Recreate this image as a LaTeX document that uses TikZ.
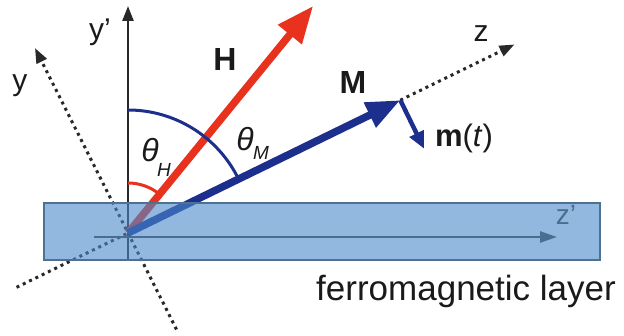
\documentclass[tikz,border=0pt]{standalone}
\usepackage{fontspec}
\setmainfont{Liberation Sans}
\usetikzlibrary{arrows.meta,calc}
\definecolor{hred}{HTML}{E8321E}
\definecolor{mblue}{HTML}{1C2F8C}
\definecolor{layerfill}{RGB}{73,137,203}
\definecolor{layeredge}{HTML}{4D7190}
\definecolor{zaxis}{HTML}{4A6E92}
\definecolor{axisgray}{HTML}{282828}
\definecolor{txt}{HTML}{1A1A1A}
\begin{document}
\begin{tikzpicture}[x=1pt,y=1pt,
  axlbl/.style={inner sep=0pt, text=txt, font=\fontsize{30}{30}\selectfont},
  boldlbl/.style={inner sep=0pt, text=txt, font=\fontsize{32}{32}\selectfont\bfseries},
  thetalbl/.style={inner sep=0pt, text=txt, font=\fontsize{32}{32}\selectfont\itshape},
  sublbl/.style={inner sep=0pt, text=txt, font=\fontsize{19}{19}\selectfont\itshape},
  dotline/.style={draw=axisgray, line width=3pt, dash pattern=on 3pt off 4pt},
  smalltip/.style={-{Triangle[length=15pt,width=11pt]}},
  vecH/.style={draw=hred, line width=7.5pt, -{Triangle[length=37pt,width=29pt]}},
  vecM/.style={draw=mblue, line width=7.5pt, -{Triangle[length=34pt,width=26pt]}},
  vecm/.style={draw=mblue, line width=4.5pt, -{Triangle[length=17pt,width=15pt]}},
  anglearc/.style={line width=3pt}]
\useasboundingbox (0,0) rectangle (624,336);
% key points
\coordinate (O) at (128,103);
\coordinate (ytop) at ($(O)+(116.7:207)$);
\coordinate (ybot) at ($(O)+(-63.3:108)$);
\coordinate (Mtip) at ($(O)+(26:303)$);
\coordinate (ztop) at ($(O)+(26:430)$);
\coordinate (zbot) at ($(O)+(206:124)$);
\coordinate (mtip) at ($(Mtip)+(-64:54)$);
\coordinate (Htip) at ($(O)+(50.8:293)$);
\coordinate (ypbot) at (128,75);
\coordinate (yptop) at (128,330);
\coordinate (zpstart) at (94,99);
\coordinate (zpend) at (557,99);
% axes
\draw[draw=axisgray, line width=2.5pt, smalltip] (ypbot) -- (yptop);
\draw[dotline, smalltip] (ybot) -- (ytop);
\draw[dotline] (zbot) -- (O);
\draw[dotline, smalltip] (Mtip) -- (ztop);
% vectors
\draw[vecH] (O) -- (Htip);
\draw[vecM] (O) -- (Mtip);
\draw[vecm] (Mtip) -- (mtip);
% angle arcs
\draw[anglearc, hred] ($(O)+(90:50)$) arc[start angle=90, end angle=50.8, radius=50];
\draw[anglearc, mblue] ($(O)+(90:123)$) arc[start angle=90, end angle=26, radius=123];
% layer
\node[draw=layeredge, line width=1.5pt, fill=layerfill, fill opacity=0.6,
      minimum width=556pt, minimum height=57pt, inner sep=0pt, anchor=south west]
      (layer) at (43,75) {};
\draw[draw=zaxis, line width=2.5pt, -{Triangle[length=17pt,width=11pt]}] (zpstart) -- (zpend);
% labels
\node[axlbl] (lyp) at (100,304) {y’};
\node[axlbl] (ly) at (20,250) {y};
\node[axlbl] (lz) at (481,302) {z};
\node[axlbl, text=zaxis, font=\fontsize{28}{28}\selectfont] (lzp) at (566,121) {z’};
\node[boldlbl] (lH) at (225,276) {H};
\node[boldlbl] (lM) at (353,253) {M};
\node[inner sep=0pt, text=txt, font=\fontsize{31}{31}\selectfont] (lm) at (464,198) {\textbf{m}(\textit{t})};
\node[thetalbl] (thH) at (150,186) {θ};
\node[sublbl] (sH) at (164,166) {H};
\node[thetalbl] (thM) at (245,197) {θ};
\node[sublbl] (sM) at (261,183) {M};
\node[inner sep=0pt, text=txt, font=\fontsize{35}{35}\selectfont] (lfm) at (466,45) {ferromagnetic layer};
\end{tikzpicture}
\end{document}
